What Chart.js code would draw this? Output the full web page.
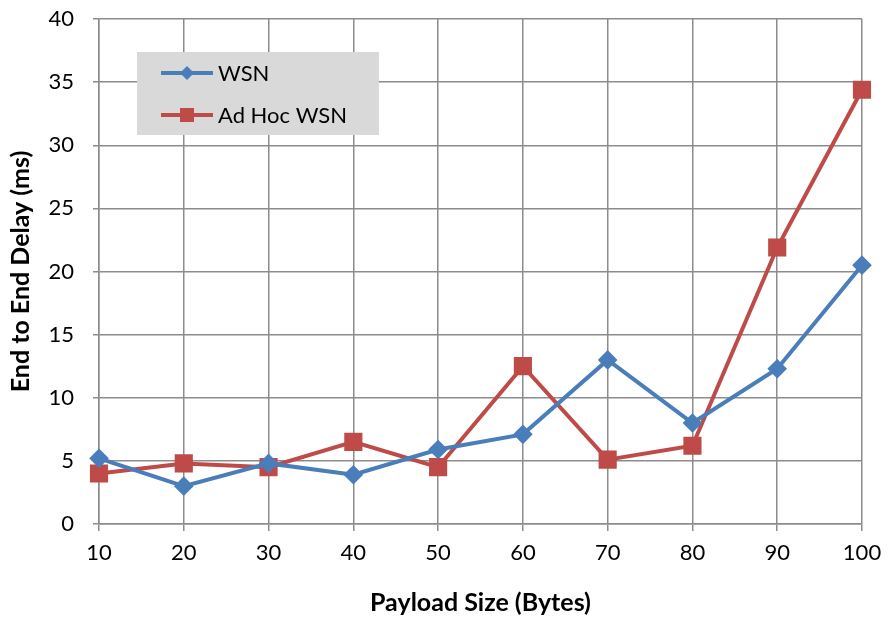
<!DOCTYPE html>
<html><head><meta charset="utf-8">
<script src="https://cdn.jsdelivr.net/npm/chart.js@4/dist/chart.umd.min.js"></script>
<style>html,body{margin:0;padding:0;background:#fff;}#wrap{width:888px;height:619px;position:relative;}</style>
</head><body><div id="wrap"><canvas id="c" width="888" height="619"></canvas></div>
<script>
const categories = ["10","20","30","40","50","60","70","80","90","100"];
const wsnValues = [5.2, 3.0, 4.8, 3.9, 5.9, 7.1, 13.0, 8.0, 12.3, 20.5];
const adhocValues = [4.0, 4.8, 4.5, 6.5, 4.5, 12.5, 5.1, 6.2, 21.9, 34.4];
const seriesNames = ["WSN", "Ad Hoc WSN"];
const yTicks = [0,5,10,15,20,25,30,35,40];
const FONT = "Lato, 'Open Sans', sans-serif";
const blue = "#4a7ebb", red = "#be4b48", grid = "#8c8c8c";

const legendPlugin = {
  id: 'boxLegend',
  afterDraw(chart) {
    const ctx = chart.ctx;
    ctx.save();
    ctx.fillStyle = "#d9d9d9";
    ctx.fillRect(137, 52, 242, 83);
    chart.data.datasets.forEach((ds, i) => {
      const y = 73 + i * 42;
      ctx.strokeStyle = ds.borderColor;
      ctx.lineWidth = 4;
      ctx.beginPath(); ctx.moveTo(161, y); ctx.lineTo(213, y); ctx.stroke();
      ctx.fillStyle = ds.backgroundColor;
      if (ds.pointStyle === 'rectRot') {
        ctx.beginPath(); ctx.moveTo(187, y-7); ctx.lineTo(194, y); ctx.lineTo(187, y+7); ctx.lineTo(180, y); ctx.closePath(); ctx.fill();
      } else {
        ctx.fillRect(180, y-7, 14, 14);
      }
      ctx.fillStyle = "#000";
      ctx.font = "22px " + FONT;
      ctx.textBaseline = "middle";
      ctx.fillText(ds.label, 218, y + 1);
    });
    ctx.restore();
  }
};

new Chart(document.getElementById('c'), {
  type: 'line',
  data: {
    labels: categories,
    datasets: [
      { label: seriesNames[0], data: wsnValues, borderColor: blue, backgroundColor: blue, borderWidth: 4,
        pointStyle: 'rectRot', pointRadius: 7, pointHoverRadius: 7, tension: 0 },
      { label: seriesNames[1], data: adhocValues, borderColor: red, backgroundColor: red, borderWidth: 4,
        pointStyle: 'rect', pointRadius: 10, pointHoverRadius: 10, tension: 0 }
    ]
  },
  options: {
    responsive: false,
    animation: false,
    devicePixelRatio: 1,
    layout: { padding: { top: 19, right: 26, left: 0, bottom: 1 } },
    plugins: { legend: { display: false }, tooltip: { enabled: false } },
    scales: {
      x: {
        type: 'category',
        offset: false,
        afterFit(axis) { axis.height = 94; axis.paddingLeft = 0; axis.paddingRight = 0; },
        grid: { color: grid, lineWidth: 1.5, tickLength: 7, drawTicks: true },
        border: { color: grid, width: 1.5 },
        ticks: { color: "#000", font: { family: FONT, size: 22 }, padding: 9, maxRotation: 0, autoSkip: false },
        title: { display: true, text: "Payload Size (Bytes)", color: "#000", font: { family: FONT, size: 25, weight: 'bold' }, padding: { top: 4, bottom: 0 } }
      },
      y: {
        min: 0, max: 40,
        afterBuildTicks(axis) { axis.ticks = yTicks.map(v => ({ value: v })); },
        afterFit(axis) { axis.width = 99; axis.paddingTop = 0; axis.paddingBottom = 0; },
        grid: { color: grid, lineWidth: 1.5, tickLength: 6 },
        border: { color: grid, width: 1.5 },
        ticks: { color: "#000", font: { family: FONT, size: 22 }, padding: 19 },
        title: { display: true, text: "End to End Delay (ms)", color: "#000", font: { family: FONT, size: 25, weight: 'bold' }, padding: { top: 6, bottom: 0 } }
      }
    }
  },
  plugins: [legendPlugin]
});
</script></body></html>
